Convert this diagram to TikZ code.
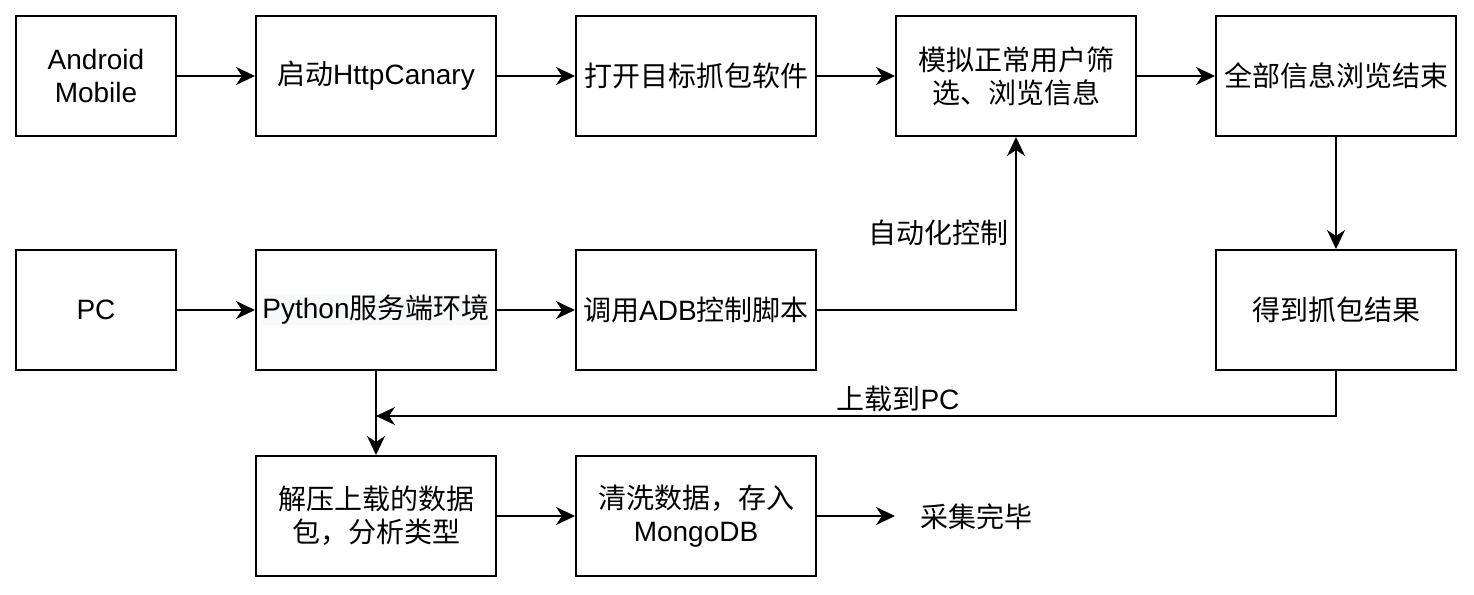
\documentclass[tikz,border=0pt]{standalone}
\usepackage{fontspec}
\setmainfont{Liberation Sans}
\newfontfamily\cjk{Noto Sans CJK SC}
\usetikzlibrary{arrows.meta}
\definecolor{hl}{HTML}{F8F9FA}
\begin{document}
\begin{tikzpicture}[x=1pt,y=-1pt,
  box/.style={draw, line width=2pt, minimum height=120pt, minimum width=240pt, align=center, inner sep=0pt, font=\fontsize{28}{33}\selectfont},
  cjkbox/.style={box, font=\fontsize{28}{33}\selectfont\cjk},
  smallbox/.style={box, minimum width=160pt},
  lbl/.style={font=\fontsize{28}{33}\selectfont, inner sep=0pt},
  cjklbl/.style={lbl, font=\fontsize{28}{33}\selectfont\cjk},
  arr/.style={line width=2pt, -{Stealth[length=19pt,width=18pt,inset=6pt]}}]
\useasboundingbox (0,0) rectangle (1474,594);
% row 1
\node[smallbox] (am) at (96,76) {Android\\Mobile};
\node[box] (hc) at (376,76) {{\cjk 启动}HttpCanary};
\node[cjkbox] (op) at (696,76) {打开目标抓包软件};
\node[cjkbox] (sim) at (1016,76) {模拟正常用户筛\\选、浏览信息};
\node[cjkbox] (all) at (1336,76) {全部信息浏览结束};
% row 2
\node[smallbox] (pc) at (96,310) {PC};
\node[box] (py) at (376,310) {{\setlength{\fboxsep}{0pt}\colorbox{hl}{\rule[-7pt]{0pt}{30pt}Python{\cjk 服务端环境}}}};
\node[box] (adb) at (696,310) {{\cjk 调用}ADB{\cjk 控制脚本}};
\node[cjkbox] (res) at (1336,310) {得到抓包结果};
% row 3
\node[cjkbox] (unz) at (376,516) {解压上载的数据\\包，分析类型};
\node[box] (cln) at (696,516) {{\cjk 清洗数据，存入}\\MongoDB};
\node[cjklbl, anchor=west] (done) at (920,517) {采集完毕};
% labels
\node[cjklbl] (l1) at (938,233) {自动化控制};
\node[lbl] (l2) at (898,399) {{\cjk 上载到}PC};
\coordinate (j) at (376,416);
% connectors
\draw[arr] (am.east) -- (hc.west);
\draw[arr] (hc.east) -- (op.west);
\draw[arr] (op.east) -- (sim.west);
\draw[arr] (sim.east) -- (all.west);
\draw[arr] (pc.east) -- (py.west);
\draw[arr] (py.east) -- (adb.west);
\draw[arr] (adb.east) -| (sim.south);
\draw[arr] (all.south) -- (res.north);
\draw[arr] (res.south) |- (j);
\draw[arr] (py.south) -- (unz.north);
\draw[arr] (unz.east) -- (cln.west);
\draw[arr, shorten >=25pt] (cln.east) -- (cln.east -| done.west);
\end{tikzpicture}
\end{document}
